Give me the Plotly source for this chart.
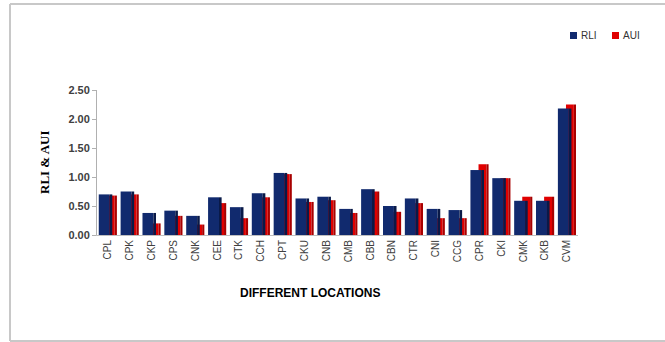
import plotly.graph_objects as go

categories = ["CPL", "CPK", "CKP", "CPS", "CNK", "CEE", "CTK", "CCH", "CPT", "CKU", "CNB",
              "CMB", "CBB", "CBN", "CTR", "CNI", "CCG", "CPR", "CKI", "CMK", "CKB", "CVM"]
rli = [0.70, 0.75, 0.38, 0.42, 0.33, 0.65, 0.48, 0.72, 1.07, 0.63, 0.66,
       0.45, 0.79, 0.50, 0.63, 0.45, 0.43, 1.12, 0.98, 0.59, 0.59, 2.18]
aui = [0.68, 0.70, 0.20, 0.33, 0.18, 0.55, 0.29, 0.65, 1.05, 0.57, 0.60,
       0.38, 0.75, 0.40, 0.55, 0.29, 0.29, 1.22, 0.98, 0.66, 0.66, 2.25]
y_ticks = [0, 0.5, 1.0, 1.5, 2.0, 2.5]

W, H = 665, 342
L, R = 97, 578   # plot area px
T, B = 90, 235

def px(x):
    return (x - L) / (R - L)

def py(y):
    return (B - y) / (B - T)

xs = list(range(len(categories)))

fig = go.Figure()
# red (AUI) behind: front + darker side
fig.add_trace(go.Bar(x=xs, y=aui, name="AUI", marker=dict(color="#e00000", line=dict(width=0)),
                     offset=-0.05, width=0.36, showlegend=False))
fig.add_trace(go.Bar(x=xs, y=aui, name="AUI side", marker=dict(color="#a80000", line=dict(width=0)),
                     offset=0.31, width=0.1, showlegend=False, hoverinfo="skip"))
# blue (RLI) in front: front + darker side
fig.add_trace(go.Bar(x=xs, y=rli, name="RLI", marker=dict(color="#112a6e", line=dict(width=0)),
                     offset=-0.42, width=0.5, showlegend=False))
fig.add_trace(go.Bar(x=xs, y=rli, name="RLI side", marker=dict(color="#0a1a48", line=dict(width=0)),
                     offset=0.08, width=0.12, showlegend=False, hoverinfo="skip"))

frame = dict(color="#c8c8c8", width=2)
fig.update_layout(
    width=W, height=H,
    margin=dict(l=L, r=W - R, t=T, b=H - B, pad=0),
    paper_bgcolor="white", plot_bgcolor="white",
    barmode="overlay",
    showlegend=False,
    xaxis=dict(range=[-0.5, len(categories) - 0.5], tickmode="array", tickvals=xs,
               ticktext=categories, tickangle=-90, showgrid=False, zeroline=False,
               showline=True, linecolor="#c0c0c0", linewidth=1, ticks="",
               tickfont=dict(family="Liberation Sans", size=10, color="#404040")),
    yaxis=dict(range=[0, 2.5], tickmode="array", tickvals=y_ticks,
               ticktext=[f"{v:.2f}" for v in y_ticks], showgrid=False, zeroline=False,
               showline=True, linecolor="#b0b0b0", linewidth=1, ticks="outside",
               ticklen=4, tickcolor="#b0b0b0",
               tickfont=dict(family="Liberation Sans", size=11, color="#404040", weight="bold")),
    shapes=[
        dict(type="line", xref="paper", yref="paper", x0=px(10), x1=px(10), y0=py(341), y1=py(4), line=frame),
        dict(type="line", xref="paper", yref="paper", x0=px(10), x1=px(665), y0=py(4), y1=py(4), line=frame),
        dict(type="line", xref="paper", yref="paper", x0=px(10), x1=px(665), y0=py(341), y1=py(341), line=frame),
        dict(type="rect", xref="paper", yref="paper", x0=px(570), x1=px(577), y0=py(39), y1=py(32),
             fillcolor="#112a6e", line=dict(width=0)),
        dict(type="rect", xref="paper", yref="paper", x0=px(612), x1=px(619), y0=py(39), y1=py(32),
             fillcolor="#e00000", line=dict(width=0)),
    ],
    annotations=[
        dict(text="<b>RLI &amp; AUI</b>", xref="paper", yref="paper", x=px(44), y=py(162),
             textangle=-90, showarrow=False, xanchor="center", yanchor="middle",
             font=dict(family="Liberation Serif", size=13, color="#000000")),
        dict(text="<b>DIFFERENT LOCATIONS</b>", xref="paper", yref="paper", x=px(310), y=py(293),
             showarrow=False, xanchor="center", yanchor="middle",
             font=dict(family="Liberation Sans", size=12, color="#000000")),
        dict(text="RLI", xref="paper", yref="paper", x=px(579), y=py(35.5), showarrow=False,
             xanchor="left", yanchor="middle",
             font=dict(family="Liberation Sans", size=10, color="#333333")),
        dict(text="AUI", xref="paper", yref="paper", x=px(621), y=py(35.5), showarrow=False,
             xanchor="left", yanchor="middle",
             font=dict(family="Liberation Sans", size=10, color="#333333")),
    ],
)

fig.write_html("out.html")
